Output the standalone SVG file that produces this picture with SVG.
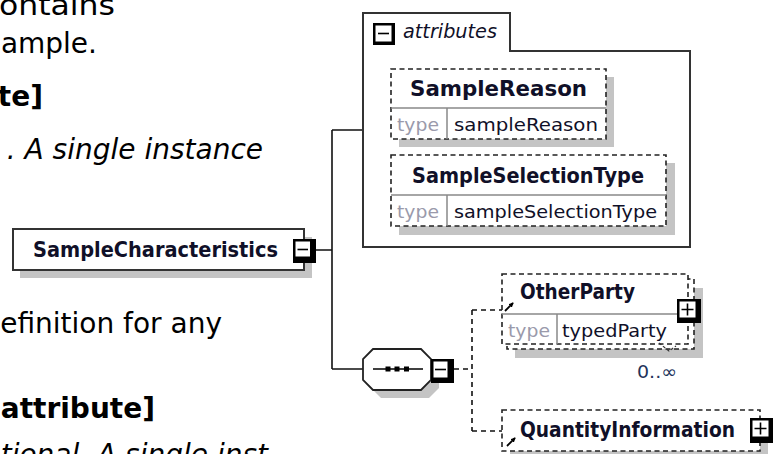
<svg xmlns="http://www.w3.org/2000/svg" width="773" height="454" viewBox="0 0 773 454">
<style>
.doc{font-family:"DejaVu Sans",Verdana,sans-serif;font-size:28px;fill:#000}
.b{font-weight:bold}
.i{font-style:italic}
.nm{font-family:"DejaVu Sans",sans-serif;font-weight:bold;font-size:20.5px;fill:#101028}
.tl{font-family:"DejaVu Sans",sans-serif;font-size:18.5px;fill:#9a9aab}
.tv{font-family:"DejaVu Sans",sans-serif;font-size:18.5px;fill:#101028}
.it{font-family:"DejaVu Sans",sans-serif;font-style:italic;font-size:19px;fill:#101028}
.sh{fill:#c4c4c4}
.box{fill:#fff;stroke:#333;stroke-width:2}
.dbox{fill:#fff;stroke:#222;stroke-width:1.6;stroke-dasharray:5 3.5}
.div{stroke:#888;stroke-width:1.5}
.ln{stroke:#111;stroke-width:1.6;fill:none}
.dln{stroke:#111;stroke-width:1.6;fill:none;stroke-dasharray:5 4}
.ib{fill:#000}
.iw{fill:#fff}
.sg{stroke:#000;stroke-width:1.6}
</style>
<defs>
<marker id="ah" viewBox="0 0 6 6" refX="5" refY="3" markerWidth="5" markerHeight="5" orient="auto" markerUnits="userSpaceOnUse">
<path d="M0,0 L6,3 L0,6 Z" fill="#000"/>
</marker>
</defs>
<rect width="773" height="454" fill="#fff"/>

<g id="doc-text">
<text class="doc" x="-1" y="15" textLength="116" lengthAdjust="spacingAndGlyphs">ontains</text>
<text class="doc" x="97" y="53" text-anchor="end">ample.</text>
<text class="doc b" x="43" y="106" text-anchor="end">te]</text>
<text class="doc i" x="263" y="159" text-anchor="end">. A single instance</text>
<text class="doc" x="222" y="333" text-anchor="end">efinition for any</text>
<text class="doc b" x="155" y="418" text-anchor="end">attribute]</text>
<text class="doc i" x="268" y="464" text-anchor="end">otional. A single inst</text>
</g>

<g id="connectors">
<path class="ln" d="M316,250 H332 M332,130 V369 M332,130 H363 M332,369 H363"/>
<path class="dln" d="M454,369 H472 M472,310 V431 M472,310 H502 M472,431 H502"/>
</g>

<g id="SampleCharacteristics">
<rect class="sh" x="20" y="237" width="292" height="41"/>
<rect class="box" x="13" y="229" width="291" height="41"/>
<text class="nm" x="33" y="257" textLength="245" lengthAdjust="spacingAndGlyphs">SampleCharacteristics</text>
<rect class="ib" x="293" y="239" width="23" height="24"/>
<rect class="iw" x="295.5" y="241.5" width="14.5" height="15"/>
<line class="sg" x1="297.5" y1="249.5" x2="308" y2="249.5"/>
</g>

<g id="attributes">
<path class="box" d="M363,247 V13 H510 V51 H690 V247 Z"/>
<rect class="ib" x="373" y="23" width="22" height="22"/>
<rect class="iw" x="375.5" y="25.5" width="16" height="16"/>
<line class="sg" x1="378" y1="33.5" x2="389" y2="33.5"/>
<text class="it" x="403" y="38" textLength="94" lengthAdjust="spacingAndGlyphs">attributes</text>
</g>

<g id="SampleReason">
<rect class="sh" x="399" y="77" width="215" height="70"/>
<rect class="dbox" x="391" y="69" width="215" height="70"/>
<line class="div" x1="391" y1="108" x2="606" y2="108"/>
<line class="div" x1="447" y1="108" x2="447" y2="139"/>
<text class="nm" x="498.5" y="96" text-anchor="middle" textLength="177" lengthAdjust="spacingAndGlyphs">SampleReason</text>
<text class="tl" x="397" y="131" textLength="42" lengthAdjust="spacingAndGlyphs">type</text>
<text class="tv" x="454" y="131" textLength="144" lengthAdjust="spacingAndGlyphs">sampleReason</text>
</g>

<g id="SampleSelectionType">
<rect class="sh" x="399" y="163" width="276" height="72"/>
<rect class="dbox" x="391" y="155" width="275" height="71"/>
<line class="div" x1="391" y1="195" x2="666" y2="195"/>
<line class="div" x1="447" y1="195" x2="447" y2="226"/>
<text class="nm" x="528" y="183" text-anchor="middle" textLength="232" lengthAdjust="spacingAndGlyphs">SampleSelectionType</text>
<text class="tl" x="397" y="218" textLength="42" lengthAdjust="spacingAndGlyphs">type</text>
<text class="tv" x="454" y="218" textLength="203" lengthAdjust="spacingAndGlyphs">sampleSelectionType</text>
</g>

<g id="sequence">
<polygon class="sh" points="381,357 429,357 439,367 439,388 429,398 381,398 371,388 371,367"/>
<polygon points="373,349 421,349 431,359 431,380 421,390 373,390 363,380 363,359" fill="#fff" stroke="#222" stroke-width="1.8"/>
<line x1="373" y1="369" x2="423" y2="369" stroke="#000" stroke-width="1.6"/>
<rect class="ib" x="385.5" y="366.5" width="5" height="5"/>
<rect class="ib" x="394.5" y="366.5" width="5" height="5"/>
<rect class="ib" x="404" y="366.5" width="5" height="5"/>
<rect class="ib" x="431" y="359" width="23" height="24"/>
<rect class="iw" x="433.5" y="361.5" width="14" height="16"/>
<line class="sg" x1="435" y1="369.5" x2="446" y2="369.5"/>
</g>

<g id="OtherParty">
<rect class="sh" x="515" y="288" width="188" height="70"/>
<rect class="dbox" x="507" y="279" width="187" height="70"/>
<rect class="dbox" x="502" y="274" width="186" height="70"/>
<line class="div" x1="502" y1="314" x2="678" y2="314"/>
<line class="div" x1="557" y1="314" x2="557" y2="344"/>
<text class="nm" x="520" y="299" textLength="115" lengthAdjust="spacingAndGlyphs">OtherParty</text>
<text class="tl" x="508" y="337" textLength="42" lengthAdjust="spacingAndGlyphs">type</text>
<text class="tv" x="562" y="337" textLength="105" lengthAdjust="spacingAndGlyphs">typedParty</text>
<line x1="505" y1="311" x2="513" y2="303" stroke="#000" stroke-width="1.8" marker-end="url(#ah)"/>
<rect class="ib" x="677" y="299" width="24" height="24"/>
<rect class="iw" x="679.5" y="301.5" width="16" height="16"/>
<path class="sg" d="M681.5,309.5 H693.5 M687.5,303.5 V315.5" fill="none"/>
<path d="M659,343 L669,351 L676,346" fill="none" stroke="#333" stroke-width="1.2" stroke-dasharray="3 2"/>
<text x="637" y="378" font-family="DejaVu Sans, sans-serif" font-size="18" fill="#22335a" textLength="40" lengthAdjust="spacingAndGlyphs">0..∞</text>
</g>

<g id="QuantityInformation">
<rect class="sh" x="510" y="418" width="258" height="45"/>
<rect class="dbox" x="502" y="410" width="258" height="41"/>
<text class="nm" x="520" y="437" textLength="215" lengthAdjust="spacingAndGlyphs">QuantityInformation</text>
<line x1="507" y1="446" x2="515" y2="438" stroke="#000" stroke-width="1.8" marker-end="url(#ah)"/>
<rect class="ib" x="750" y="418" width="23" height="25"/>
<rect class="iw" x="752.5" y="420.5" width="16" height="16"/>
<path class="sg" d="M754.5,428.5 H766.5 M760.5,422.5 V434.5" fill="none"/>
</g>
</svg>
